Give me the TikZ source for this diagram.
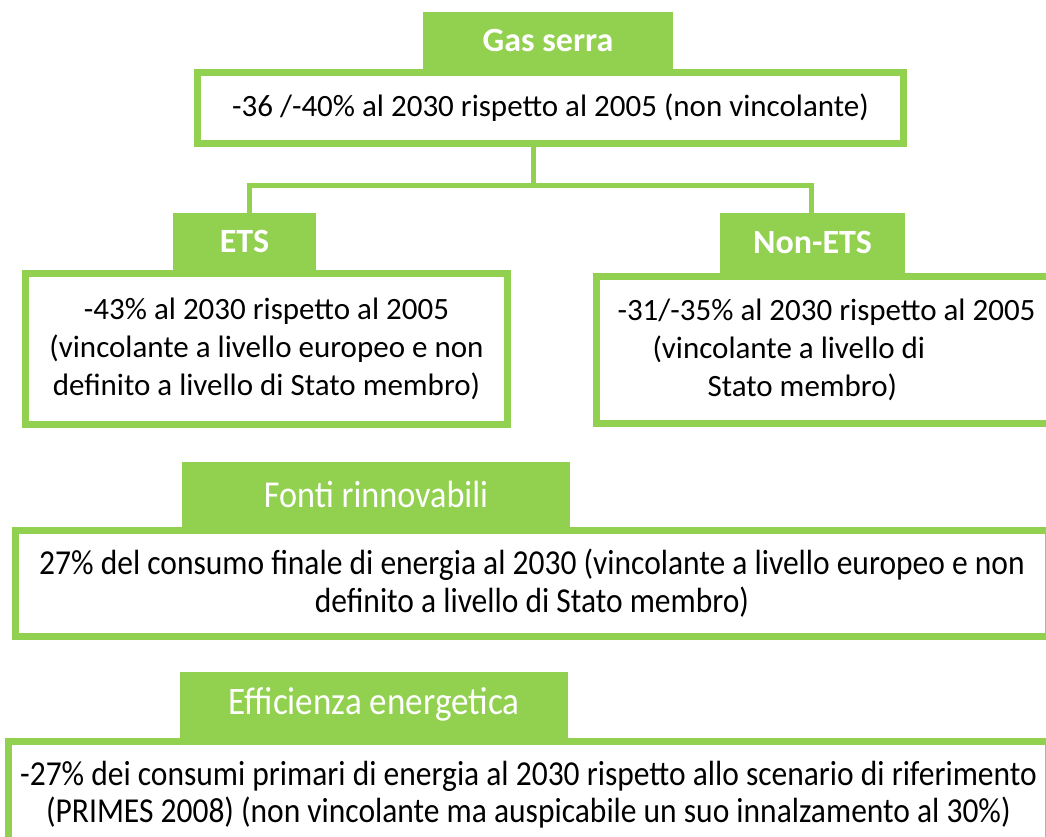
\documentclass[tikz,border=0pt]{standalone}
\usepackage{fontspec}
\setmainfont{Carlito}
\newfontfamily\narrowfont[FakeStretch=0.9]{Carlito}
\usetikzlibrary{positioning}
\definecolor{leafgreen}{RGB}{146, 208, 80}
\tikzset{
    tab/.style={rectangle, fill=leafgreen, text=white, inner sep=0pt, font=\fontsize{34}{40}\selectfont\bfseries},
    panel/.style={rectangle, draw=leafgreen, line width=7pt, fill=white, align=center, inner sep=0pt, font=\fontsize{31}{38}\selectfont},
    link/.style={draw=leafgreen, line width=5pt}
}

\begin{document}
\begin{tikzpicture}[x=1pt, y=-1pt]
    \useasboundingbox (0,0) rectangle (1046,836);
    \clip (0,0) rectangle (1046,836);

    % gas serra
    \node[panel, minimum width=706pt, minimum height=71pt] (gasB) at (550.5,108) {-36 /-40\% al 2030 rispetto al 2005 (non vincolante)};
    \node[tab, minimum width=250pt, minimum height=57pt, above=0pt of gasB.north, xshift=-2.5pt] (gasH) {Gas serra};

    % ETS / non-ETS
    \node[panel, minimum width=482pt, minimum height=151pt] (etsB) at (266.5,349) {-43\% al 2030 rispetto al 2005\\(vincolante a livello europeo e non\\definito a livello di Stato membro)};
    \node[tab, minimum width=143pt, minimum height=57pt, above=0pt of etsB.north, xshift=-22pt] (etsH) {ETS};

    \node[panel, minimum width=460pt, minimum height=147pt, align=left] (nonB) at (826.5,350) {-31/-35\% al 2030 rispetto al 2005\\\hspace*{35pt}(vincolante a livello di\\\hspace*{90pt}Stato membro)};
    \node[tab, minimum width=185pt, minimum height=60pt, above=0pt of nonB.north, xshift=-14pt] (nonH) {Non-ETS};

    \coordinate (fork) at (533,185);
    \draw[link] (gasB.south -| fork) -- (fork);
    \draw[link] ([xshift=5pt]etsH.north) |- (fork) -| ([xshift=-1pt]nonH.north);

    % rinnovabili
    \node[panel, minimum width=1033pt, minimum height=106pt, font=\narrowfont\fontsize{35}{38}\selectfont] (fontiB) at (532,583.5) {27\% del consumo finale di energia al 2030 (vincolante a livello europeo e non\\definito a livello di Stato membro)};
    \node[tab, minimum width=388pt, minimum height=65pt, above=0pt of fontiB.north, xshift=-156pt, font=\narrowfont\fontsize{38}{40}\selectfont] (fontiH) {Fonti rinnovabili};

    % efficienza
    \node[panel, minimum width=1040pt, minimum height=107pt, font=\narrowfont\fontsize{35}{37}\selectfont] (effB) at (528.5,795) {-27\% dei consumi primari di energia al 2030 rispetto allo scenario di riferimento\\(PRIMES 2008) (non vincolante ma auspicabile un suo innalzamento al 30\%)};
    \node[tab, minimum width=388pt, minimum height=66pt, above=0pt of effB.north, xshift=-154.5pt, font=\narrowfont\fontsize{39}{40}\selectfont] (effH) {Efficienza energetica};
\end{tikzpicture}
\end{document}
